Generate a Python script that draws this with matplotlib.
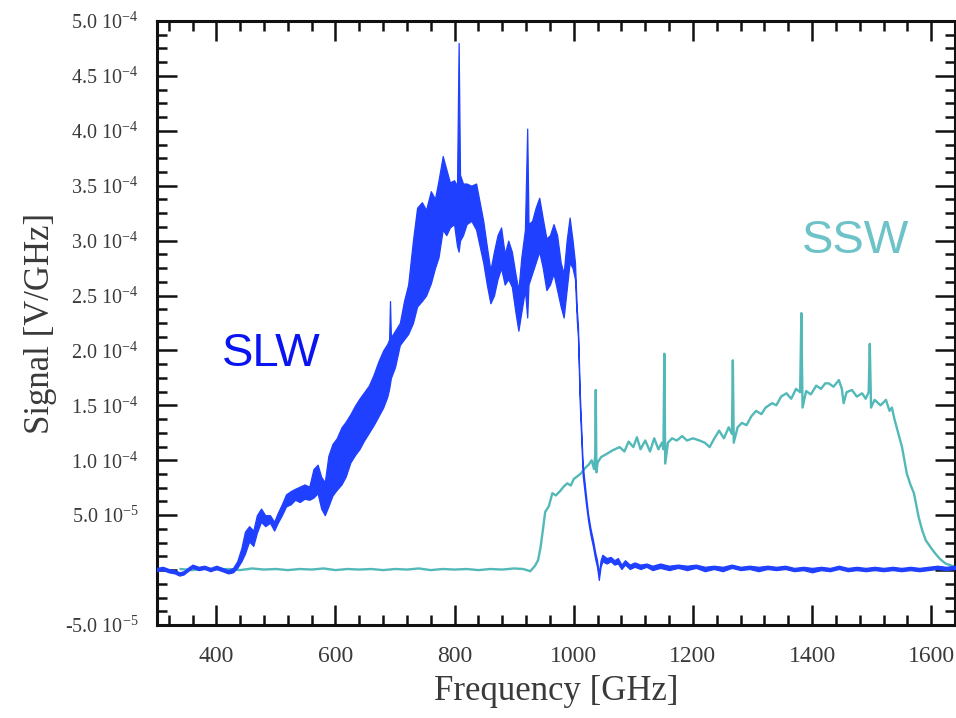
import matplotlib
matplotlib.use("Agg")
import matplotlib.pyplot as plt
from matplotlib.ticker import MultipleLocator, FixedLocator, FixedFormatter
import numpy as np

# signal values are in units of 1e-5 V/GHz
scale = 1e-5

# SLW band: frequency [GHz], lower and upper envelope of the fringed signal
slw_freq = [300, 310, 320, 330, 338, 345, 352, 360, 370, 380, 390, 400, 410, 420, 428,
            435, 442, 448, 455, 462, 468, 475, 482, 490, 497, 503, 510, 517, 525, 532,
            540, 548, 556, 563, 570, 576, 582, 588, 595, 602, 610, 617, 625, 633, 640,
            648, 656, 664, 672, 680, 687, 690, 691.5, 693, 700, 708, 715, 722, 730, 737,
            745, 752, 760, 767, 773, 780, 786, 792, 799, 804, 806.7, 809, 814, 820, 828,
            836, 842, 848, 854, 860, 866, 872, 878, 884, 890, 896, 902, 907, 912, 918,
            921.8, 924, 930, 936, 942, 948, 954, 960, 966, 972, 978, 983, 988, 993, 998,
            1002, 1005, 1007, 1010, 1015, 1020, 1024, 1028, 1032, 1036, 1039, 1042, 1045, 1048, 1055,
            1062, 1068, 1074, 1080, 1086, 1094, 1102, 1112, 1122, 1132, 1145, 1160, 1175, 1190, 1205,
            1220, 1235, 1250, 1265, 1280, 1295, 1310, 1325, 1340, 1355, 1370, 1385, 1400, 1415, 1430,
            1445, 1460, 1475, 1490, 1505, 1520, 1535, 1550, 1565, 1580, 1595, 1610, 1625, 1640]
slw_lo = [-0.1, 0.0, -0.2, -0.3, -0.5, -0.4, -0.1, 0.2, 0.0, 0.1, -0.1, 0.1, -0.1, -0.3, -0.2,
          0.2, 0.8, 1.5, 2.6, 2.2, 3.4, 4.4, 4.0, 4.3, 3.6, 4.3, 5.0, 5.8, 6.0, 6.4,
          6.2, 6.5, 6.4, 6.6, 7.0, 5.6, 5.0, 5.8, 6.8, 7.3, 7.8, 8.5, 9.8, 10.5, 11.0,
          11.8, 12.5, 13.2, 14.0, 14.8, 15.8, 16.5, 17.0, 17.5, 18.5, 20.5, 21.0, 21.5, 22.5, 24.0,
          24.5, 25.0, 26.1, 27.5, 28.5, 31.0, 30.5, 31.2, 31.5, 29.5, 29.0, 30.0, 30.5, 31.5, 31.8,
          31.0, 29.5, 28.0, 26.0, 24.3, 25.0, 26.5, 27.5, 26.0, 26.5, 25.8, 23.5, 21.8, 23.5, 25.5,
          23.0, 26.0, 27.0, 28.0, 29.0, 27.5, 25.5, 26.0, 27.0, 25.5, 24.0, 23.0, 25.5, 28.0, 27.5,
          26.5, 22.8, 21.2, 15.2, 8.6, 6.2, 4.5, 3.2, 2.2, 1.0, 0.3, -0.9, 0.3, 0.8, 0.6,
          0.8, 0.5, 0.6, 0.1, 0.5, 0.1, 0.3, 0.1, 0.3, 0.0, 0.2, 0.0, 0.2, 0.0, 0.2,
          -0.1, 0.1, -0.1, 0.2, 0.0, 0.1, -0.1, 0.1, 0.0, 0.1, -0.1, 0.0, -0.2, 0.0, -0.1,
          0.1, -0.1, 0.0, -0.1, 0.0, -0.1, 0.0, -0.1, 0.0, -0.1, 0.0, 0.1, 0.0, 0.1]
slw_hi = [0.2, 0.3, 0.1, 0.0, -0.2, -0.1, 0.2, 0.5, 0.3, 0.4, 0.2, 0.4, 0.2, 0.0, 0.2,
          0.8, 2.0, 3.5, 4.0, 3.6, 5.0, 5.6, 5.0, 5.0, 4.4, 5.2, 6.0, 6.9, 7.2, 7.4,
          7.6, 7.8, 7.6, 9.2, 9.6, 8.5, 8.0, 10.4, 11.5, 12.0, 13.0, 13.5, 14.2, 15.0, 15.6,
          16.2, 16.8, 17.8, 19.0, 20.0, 20.6, 21.0, 24.5, 21.2, 21.8, 22.5, 24.5, 26.0, 30.0, 33.0,
          33.5, 32.8, 34.5, 33.8, 35.5, 37.7, 36.5, 35.3, 35.5, 35.0, 48.0, 36.0, 35.2, 35.2, 35.0,
          35.2, 33.5, 31.8, 29.5, 27.3, 29.0, 30.5, 31.2, 28.8, 30.0, 29.0, 27.0, 25.5, 28.5, 31.0,
          40.2, 31.5, 31.8, 33.0, 33.9, 32.0, 30.2, 30.5, 31.5, 30.5, 28.0, 27.0, 30.0, 32.1, 30.0,
          28.0, 23.8, 22.2, 16.2, 9.6, 7.0, 5.1, 3.8, 2.8, 1.6, 0.9, -0.3, 0.9, 1.4, 1.1,
          1.2, 0.9, 1.1, 0.5, 0.9, 0.5, 0.7, 0.5, 0.6, 0.4, 0.6, 0.4, 0.5, 0.4, 0.5,
          0.3, 0.4, 0.3, 0.5, 0.3, 0.4, 0.3, 0.4, 0.3, 0.4, 0.2, 0.3, 0.2, 0.3, 0.2,
          0.4, 0.2, 0.3, 0.2, 0.3, 0.2, 0.3, 0.2, 0.3, 0.2, 0.3, 0.4, 0.3, 0.4]

# SSW spectrum: frequency [GHz] and signal
ssw_freq = [340, 360, 380, 400, 420, 440, 460, 480, 500, 520, 540, 560, 580, 600, 620,
            640, 660, 680, 700, 720, 740, 760, 780, 800, 820, 840, 860, 880, 900, 915,
            927, 935, 940, 944, 948, 952, 958, 964, 970, 977, 983, 989, 995, 1000, 1005,
            1012, 1019, 1025, 1030, 1034, 1036, 1036.9, 1038, 1040, 1046, 1056, 1065, 1077, 1085, 1092,
            1100, 1106, 1112, 1120, 1128, 1135, 1142, 1148, 1150.5, 1152, 1153.5, 1158, 1165, 1173, 1182,
            1190, 1200, 1211, 1220, 1228, 1236, 1244, 1252, 1260, 1265.5, 1267, 1268.5, 1275, 1282, 1290,
            1298, 1306, 1315, 1322, 1333, 1340, 1348, 1357, 1365, 1373, 1380, 1382, 1384, 1390, 1398,
            1407, 1415, 1422, 1428, 1436, 1445, 1450, 1453, 1458, 1467, 1475, 1484, 1490, 1495, 1496.9,
            1499, 1505, 1515, 1524, 1530, 1534, 1538, 1542, 1551, 1559, 1565, 1571, 1579, 1585, 1591,
            1600, 1607, 1615, 1624, 1640]
ssw_sig = [0.1, 0.0, 0.15, 0.05, 0.1, 0.0, 0.15, 0.05, 0.1, 0.0, 0.1, 0.05, 0.15, 0.0, 0.1,
           0.05, 0.1, 0.0, 0.1, 0.05, 0.15, 0.0, 0.1, 0.05, 0.1, 0.0, 0.1, 0.05, 0.15, 0.1,
           -0.1, 0.4, 0.9, 2.0, 3.6, 5.3, 5.8, 7.0, 6.8, 7.2, 7.6, 7.9, 7.7, 8.3, 8.5,
           8.8, 9.3, 9.6, 10.0, 9.2, 10.5, 16.4, 8.9, 9.8, 10.3, 10.6, 10.9, 11.2, 10.8, 11.7,
           11.2, 12.1, 11.0, 11.8, 10.8, 12.0, 11.0, 11.6, 11.0, 19.7, 9.7, 11.6, 12.0, 11.8, 12.2,
           11.8, 12.0, 11.8, 11.6, 11.2, 12.0, 12.7, 12.0, 13.0, 12.4, 19.1, 11.6, 13.0, 13.4, 13.2,
           14.0, 14.5, 14.2, 14.8, 15.2, 15.0, 15.8, 16.1, 15.6, 16.5, 16.2, 23.4, 14.8, 16.3, 16.0,
           16.8, 16.5, 17.0, 17.0, 16.7, 17.3, 16.5, 15.2, 16.2, 16.4, 15.8, 16.1, 15.6, 16.2, 20.6,
           14.8, 15.5, 15.0, 15.5, 14.5, 14.8, 13.8, 13.0, 11.2, 8.8, 7.8, 7.0, 4.8, 3.6, 2.7,
           2.0, 1.5, 1.0, 0.6, 0.3]

ytick_vals = [-5e-5, 0, 5e-5, 1e-4, 1.5e-4, 2e-4, 2.5e-4, 3e-4, 3.5e-4, 4e-4, 4.5e-4, 5e-4]


def sci_label(v):
    # "5.0 10^-4" style, no label on the zero line
    if v == 0:
        return ''
    exp = int(np.floor(np.log10(abs(v))))
    mant = v / 10**exp
    return '%.1f 10$^{%d}$' % (mant, exp)


plt.rcParams['font.family'] = 'Liberation Serif'
plt.rcParams['mathtext.fontset'] = 'custom'
plt.rcParams['mathtext.rm'] = 'Liberation Serif'
plt.rcParams['mathtext.default'] = 'regular'
plt.rcParams['axes.unicode_minus'] = False

fig = plt.figure(figsize=(9.56, 7.18), dpi=100)
ax = fig.add_axes([0.164, 0.1295, 0.835, 0.8413])

f_slw = np.array(slw_freq)
ax.plot(ssw_freq, np.array(ssw_sig) * scale, color='#52b8b8', lw=1.7, zorder=2)
ax.fill_between(f_slw, np.array(slw_lo) * scale, np.array(slw_hi) * scale,
                color='#2040ff', lw=0.9, edgecolor='#2040ff', zorder=3)

ax.set_xlim(300, 1640)
ax.set_ylim(-5e-5, 5e-4)
ax.xaxis.set_major_locator(MultipleLocator(200))
ax.xaxis.set_minor_locator(MultipleLocator(40))
ax.yaxis.set_major_locator(FixedLocator(ytick_vals))
ax.yaxis.set_major_formatter(FixedFormatter([sci_label(v) for v in ytick_vals]))
ax.yaxis.set_minor_locator(MultipleLocator(1.25e-5))

ax.tick_params(which='both', direction='in', top=True, right=True, color='#111111')
ax.tick_params(which='major', length=14.5, width=1.8, labelcolor='#3a3a3a')
ax.tick_params(which='minor', length=7.2, width=1.8)
ax.tick_params(axis='x', which='major', pad=15, labelsize=17)
ax.tick_params(axis='y', which='major', pad=13, labelsize=14.5)
for s in ax.spines.values():
    s.set_linewidth(2.2)
    s.set_color('#111111')

ax.set_xlabel('Frequency [GHz]', fontsize=25, color='#3a3a3a')
ax.set_ylabel('Signal [V/GHz]', fontsize=25, color='#3a3a3a')
ax.xaxis.set_label_coords(0.5, -0.082)
ax.yaxis.set_label_coords(-0.125, 0.5)

ax.text(0.144, 0.449, 'SLW', transform=ax.transAxes, fontsize=34, color='#0a14f0',
        family='Liberation Sans', ha='center', va='center')
ax.text(0.875, 0.636, 'SSW', transform=ax.transAxes, fontsize=34, color='#6ec3c8',
        family='Liberation Sans', ha='center', va='center')

plt.savefig('out.png', dpi=100)
plt.close()
